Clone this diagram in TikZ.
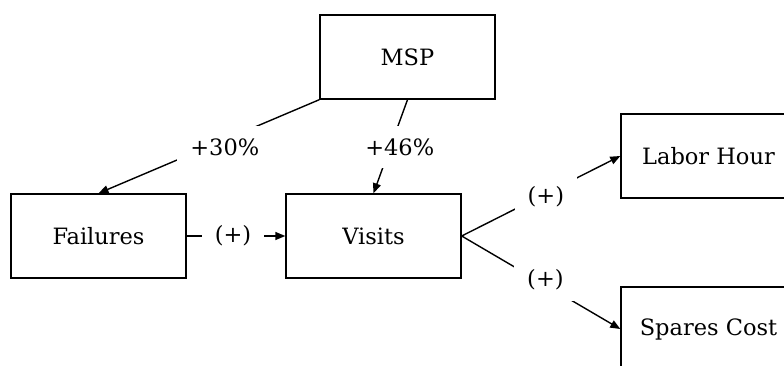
\documentclass[tikz,border=0pt]{standalone}
\usepackage{fontspec}
\setmainfont{DejaVu Serif}
\usetikzlibrary{arrows.meta}
\begin{document}
\begin{tikzpicture}[x=1pt,y=1pt,
  box/.style={draw=black,line width=1.4pt,minimum width=175pt,minimum height=84pt,inner sep=0pt,font=\fontsize{22.5}{27}\selectfont},
  conn/.style={line width=1.4pt,-{Triangle[length=10pt,width=8pt]}},
  lbl/.style={fill=white,inner xsep=13pt,inner ysep=0pt,minimum height=42pt,font=\fontsize{22.5}{27}\selectfont}]
\useasboundingbox (0,0) rectangle (784,365);
\clip (0,0) rectangle (784,365);
\node[box] (msp) at (407.5,308) {MSP};
\node[box] (fail) at (98.5,129) {Failures};
\node[box] (vis) at (373.5,129) {Visits};
\node[box] (lab) at (708.5,209) {Labor Hour};
\node[box] (spa) at (708.5,36) {Spares Cost};
\draw[conn] (msp.south west) -- (fail.north) node[lbl,pos=0.505,xshift=17pt] (l1) {+30\%};
\draw[conn] (msp.south) -- (vis.north) node[lbl,pos=0.505,xshift=9.4pt] (l2) {+46\%};
\draw[conn] (fail.east) -- (vis.west) node[lbl,pos=0.5,xshift=-3pt] (l3) {(+)};
\draw[conn] (vis.east) -- (lab.west) node[lbl,pos=0.531,yshift=-3.5pt] (l4) {(+)};
\draw[conn] (vis.east) -- (spa.west) node[lbl,pos=0.528,yshift=5pt] (l5) {(+)};
\end{tikzpicture}
\end{document}
